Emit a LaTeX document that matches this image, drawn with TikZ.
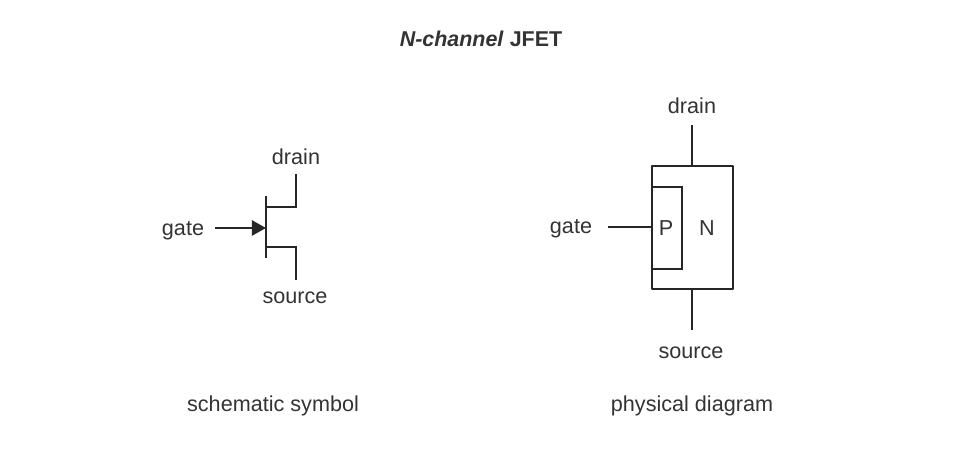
\documentclass[tikz,border=0pt]{standalone}
\usepackage{fontspec}
\setmainfont{Liberation Sans}
\usepackage{tikz}
\usetikzlibrary{arrows.meta}

\tikzset{
  label text/.style={text=black!80, font=\fontsize{12.3}{14}\selectfont, inner sep=0pt},
  wire/.style={line width=1.5pt, draw=black!85},
  solid head/.style={-{Triangle[length=8pt,width=8.5pt]}, shorten >=0pt}
}

\begin{document}
\begin{tikzpicture}
  \useasboundingbox (0,0) rectangle (19.56,9.04);

  \node at (9.62,8.26) (title) [label text, font=\fontsize{12.2}{14}\selectfont\bfseries] { \textit{N-channel} JFET };

  % schematic symbol
  \node at (5.92,5.90) (sym-drain) [label text] { drain };
  \node at (3.66,4.43) (sym-gate) [label text] { gate };
  \node at (5.90,3.09) (sym-source) [label text] { source };
  \node at (5.46,0.92) (sym-caption) [label text] { schematic symbol };

  \coordinate (bar-top) at (5.32,5.12);
  \coordinate (bar-bottom) at (5.32,3.88);
  \coordinate (gate-in) at (4.30,4.48);
  \coordinate (gate-tip) at (5.32,4.48);
  \coordinate (drain-knee) at (5.92,4.90);
  \coordinate (drain-end) at (5.92,5.56);
  \coordinate (source-knee) at (5.92,4.10);
  \coordinate (source-end) at (5.92,3.44);

  \draw[wire] (bar-top) -- (bar-bottom);
  \draw[wire, solid head] (gate-in) -- (gate-tip);
  \draw[wire] (drain-end) -- (drain-knee) -- (drain-knee -| bar-top);
  \draw[wire] (source-end) -- (source-knee) -- (source-knee -| bar-top);

  % physical diagram
  \node at (13.84,6.93) (phy-drain) [label text] { drain };
  \node at (11.42,4.47) (phy-gate) [label text] { gate };
  \node at (13.82,1.98) (phy-source) [label text] { source };
  \node at (13.84,0.92) (phy-caption) [label text] { physical diagram };
  \node at (13.32,4.48) (p-label) [label text] { P };
  \node at (14.14,4.48) (n-label) [label text] { N };

  \coordinate (body-sw) at (13.04,3.26);
  \coordinate (body-ne) at (14.66,5.72);
  \coordinate (well-sw) at (13.04,3.66);
  \coordinate (well-ne) at (13.64,5.30);
  \coordinate (drain-top) at (13.84,6.54);
  \coordinate (source-bottom) at (13.84,2.44);
  \coordinate (gate-left) at (12.16,4.50);

  \draw[wire, line join=round] (body-sw) rectangle (body-ne);
  \draw[wire] (well-sw) -- (well-sw -| well-ne) -- (well-ne) -- (well-ne -| well-sw);
  \draw[wire] (drain-top) -- (drain-top |- body-ne);
  \draw[wire] (source-bottom) -- (source-bottom |- body-sw);
  \draw[wire] (gate-left) -- (gate-left -| body-sw);
\end{tikzpicture}
\end{document}
